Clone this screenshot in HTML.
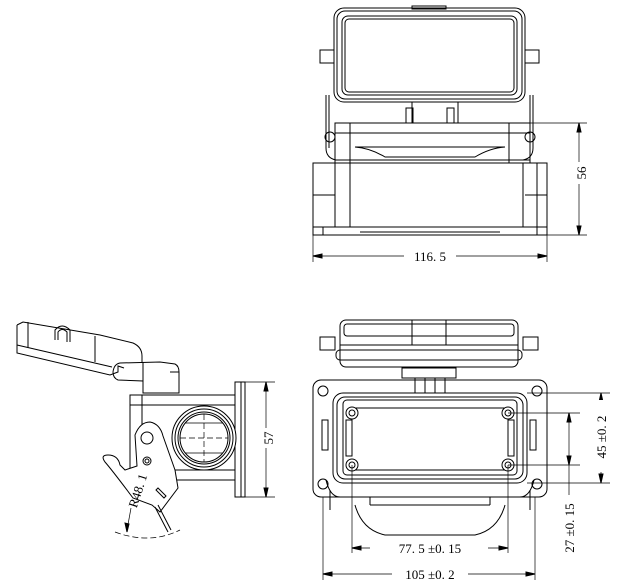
<!DOCTYPE html>
<html><head><meta charset="utf-8"><style>
html,body{margin:0;padding:0;background:#fff}
svg{display:block}
text{font-family:"Liberation Serif",serif;fill:#000;stroke:none}
</style></head><body>
<svg width="627" height="586" viewBox="0 0 627 586" fill="none" stroke="#000" stroke-width="1">
<!-- TOP VIEW -->
<rect x="334" y="8" width="191" height="94" rx="10"/>
<rect x="337" y="11" width="185" height="88" rx="8"/>
<rect x="342" y="16" width="175" height="79" rx="6"/>
<rect x="345" y="19" width="169" height="73" rx="4"/>
<rect x="412" y="6" width="34" height="3"/>
<rect x="320" y="50" width="14" height="13"/>
<rect x="525" y="50" width="14" height="13"/>
<rect x="412" y="102" width="46" height="21"/>
<rect x="406" y="108" width="7" height="15"/>
<rect x="447" y="108" width="7" height="15"/>
<path d="M326 95 V148 Q326 158 336 160 M533 95 V148 Q533 158 523 160"/>
<path d="M329 95 V148 M530 95 V148"/>
<rect x="335" y="123" width="195" height="40"/>
<line x1="335" y1="133" x2="530" y2="133"/>
<line x1="350" y1="123" x2="350" y2="163"/>
<line x1="509" y1="123" x2="509" y2="163"/>
<path d="M355 147 Q370 148 385 157 L475 157 Q490 148 505 147 Z"/>
<line x1="335" y1="160" x2="530" y2="160"/>
<circle cx="330" cy="137" r="5"/><circle cx="530" cy="137" r="5"/>
<rect x="313" y="163" width="234" height="64"/>
<line x1="335" y1="163" x2="335" y2="227"/><line x1="350" y1="163" x2="350" y2="227"/>
<line x1="523" y1="163" x2="523" y2="227"/><line x1="537" y1="163" x2="537" y2="227"/>
<line x1="313" y1="195" x2="335" y2="195"/><line x1="525" y1="195" x2="547" y2="195"/>
<rect x="313" y="227" width="234" height="8"/>
<line x1="323" y1="227" x2="323" y2="235"/><line x1="537" y1="227" x2="537" y2="235"/>
<line x1="360" y1="232" x2="500" y2="232"/>
<!-- dims top -->
<line x1="525" y1="123" x2="587" y2="123" stroke-width=".7"/>
<line x1="547" y1="235" x2="587" y2="235" stroke-width=".7"/>
<line x1="579" y1="123" x2="579" y2="235" stroke-width=".7"/>
<path d="M579 123 l-2 9 h4z M579 235 l-2 -9 h4z" fill="#000"/>
<rect x="573" y="162" width="14" height="22" fill="#fff" stroke="none"/>
<text x="586" y="173" font-size="13" transform="rotate(-90 586 173)" text-anchor="middle">56</text>
<line x1="313" y1="235" x2="313" y2="262" stroke-width=".7"/>
<line x1="547" y1="235" x2="547" y2="262" stroke-width=".7"/>
<line x1="313" y1="256" x2="547" y2="256" stroke-width=".7"/>
<path d="M313 256 l9 -2 v4z M547 256 l-9 -2 v4z" fill="#000"/>
<rect x="404" y="248" width="52" height="14" fill="#fff" stroke="none"/>
<text x="430" y="261" font-size="13" text-anchor="middle">116. 5</text>

<!-- FRONT VIEW -->
<rect x="340" y="320" width="178" height="47" rx="6"/>
<rect x="344" y="324" width="170" height="12" rx="3"/>
<line x1="340" y1="345" x2="518" y2="345"/>
<rect x="336" y="350" width="186" height="10" rx="4"/>
<rect x="412" y="320" width="34" height="25"/>
<rect x="320" y="337" width="15" height="13"/>
<rect x="523" y="337" width="15" height="13"/>
<rect x="402" y="368" width="54" height="10"/>
<rect x="415" y="378" width="30" height="15"/>
<line x1="425" y1="378" x2="425" y2="393"/><line x1="435" y1="378" x2="435" y2="393"/>
<rect x="313" y="380" width="234" height="117" rx="8"/>
<circle cx="323" cy="391" r="5"/><circle cx="537" cy="391" r="5"/>
<circle cx="323" cy="484" r="5"/><circle cx="537" cy="484" r="5"/>
<rect x="333" y="393" width="194" height="90" rx="10"/>
<rect x="337" y="397" width="186" height="82" rx="8"/>
<rect x="343" y="400" width="174" height="75" rx="4"/>
<line x1="355" y1="408" x2="505" y2="408"/><line x1="355" y1="470" x2="505" y2="470"/>
<rect x="346" y="420" width="6" height="36"/><rect x="508" y="420" width="6" height="36"/>
<g>
<circle cx="352" cy="413" r="6"/><circle cx="352" cy="413" r="3"/>
<circle cx="508" cy="413" r="6"/><circle cx="508" cy="413" r="3"/>
<circle cx="352" cy="465" r="6"/><circle cx="352" cy="465" r="3"/>
<circle cx="508" cy="465" r="6"/><circle cx="508" cy="465" r="3"/>
</g>
<path d="M322 420 v30 h6 v-30z M530 420 v30 h6 v-30z"/>
<path d="M326 480 Q330 497 340 497 M534 480 Q530 497 520 497"/>
<path d="M330 490 V510 M530 490 V510"/>
<path d="M340 497 h30 v8 M520 497 h-30 v8 M370 505 h120"/>
<path d="M355 505 Q362 530 385 535 L475 535 Q498 530 505 505"/>
<!-- dims front -->
<line x1="352" y1="465" x2="352" y2="553" stroke-width=".7"/>
<line x1="508" y1="465" x2="508" y2="553" stroke-width=".7"/>
<line x1="352" y1="548" x2="508" y2="548" stroke-width=".7"/>
<path d="M352 548 l9 -2 v4z M508 548 l-9 -2 v4z" fill="#000"/>
<rect x="370" y="540" width="118" height="14" fill="#fff" stroke="none"/>
<text x="430" y="553" font-size="13" text-anchor="middle">77. 5  ±0. 15</text>
<line x1="323" y1="497" x2="323" y2="580" stroke-width=".7"/>
<line x1="535" y1="497" x2="535" y2="580" stroke-width=".7"/>
<line x1="323" y1="574" x2="535" y2="574" stroke-width=".7"/>
<path d="M323 574 l9 -2 v4z M535 574 l-9 -2 v4z" fill="#000"/>
<rect x="392" y="566" width="76" height="14" fill="#fff" stroke="none"/>
<text x="430" y="579" font-size="13" text-anchor="middle">105  ±0. 2</text>
<line x1="527" y1="393" x2="610" y2="393" stroke-width=".7"/>
<line x1="527" y1="483" x2="610" y2="483" stroke-width=".7"/>
<line x1="508" y1="413" x2="580" y2="413" stroke-width=".7"/>
<line x1="508" y1="465" x2="580" y2="465" stroke-width=".7"/>
<line x1="601" y1="393" x2="601" y2="483" stroke-width=".7"/>
<path d="M601 393 l-2 9 h4z M601 483 l-2 -9 h4z" fill="#000"/>
<line x1="569" y1="413" x2="569" y2="495" stroke-width=".7"/>
<path d="M569 413 l-2 9 h4z M569 465 l-2 -9 h4z" fill="#000"/>
<rect x="594" y="400" width="14" height="72" fill="#fff" stroke="none"/>
<text x="606" y="437" font-size="13" transform="rotate(-90 606 437)" text-anchor="middle">45  ±0. 2</text>
<rect x="562" y="495" width="14" height="70" fill="#fff" stroke="none"/>
<text x="574" y="528" font-size="13" transform="rotate(-90 574 528)" text-anchor="middle">27  ±0. 15</text>

<!-- SIDE VIEW -->
<path d="M17 325 L23 322 L100 335 L133 343 Q142 347 142 356 L142 362"/>
<path d="M17 325 V353 L110 375 L118 372 V366 L124 368"/>
<path d="M17 345 L112 367"/>
<path d="M28 322 V348 M95 336 V362"/>
<path d="M55 340 V330 Q62 322 70 330 V342"/>
<path d="M58 340 V332 Q62 327 67 332 V342"/>
<path d="M120 363 L160 362 L175 364 Q179 366 179 372 V393 H143 V381 L118 380 Q113 378 113 372 Q114 364 120 363 Z"/>
<line x1="143" y1="362" x2="143" y2="393"/>
<line x1="170" y1="372" x2="179" y2="372"/>
<rect x="130" y="395" width="105" height="85"/>
<line x1="142" y1="395" x2="142" y2="430"/>
<line x1="130" y1="405" x2="235" y2="405"/>
<line x1="130" y1="470" x2="235" y2="470"/>
<rect x="235" y="382" width="6" height="115"/>
<rect x="241" y="382" width="4" height="115"/>
<circle cx="204" cy="438" r="32" fill="#fff"/>
<circle cx="204" cy="438" r="29"/>
<circle cx="204" cy="438" r="26"/>
<circle cx="204" cy="438" r="24"/>
<path d="M180 438 H228 M204 414 V462" stroke-dasharray="6 3" stroke-width=".7"/>
<path d="M185 423 H223 M185 453 H223" stroke-width=".7"/>
<path d="M135 435 Q140 422 150 422 Q160 424 163 436 L175 470 L178 488 L160 512 L152 505 L133 498 Q112 470 105 462 Q100 455 108 455 Q118 455 120 465 L125 470 L137 466 Z" fill="#fff"/>
<circle cx="147" cy="438" r="6"/>
<circle cx="147" cy="461" r="4"/><circle cx="147" cy="461" r="2"/>
<path d="M158 488 L166 496 L164 498 L156 490Z"/>
<path d="M155 507 L168 532 M158 505 L171 530"/>
<path d="M115 532 Q150 545 180 530" stroke-dasharray="6 3" stroke-width=".7"/>
<line x1="131" y1="508" x2="127" y2="530" stroke-width=".7"/>
<path d="M127 532 l-2 -9 l4 1z" fill="#000"/>
<text x="142" y="492" font-size="13" transform="rotate(-72 142 492)" text-anchor="middle">R48. 1</text>
<line x1="245" y1="382" x2="275" y2="382" stroke-width=".7"/>
<line x1="245" y1="497" x2="275" y2="497" stroke-width=".7"/>
<line x1="266" y1="382" x2="266" y2="497" stroke-width=".7"/>
<path d="M266 382 l-2 9 h4z M266 497 l-2 -9 h4z" fill="#000"/>
<rect x="260" y="428" width="14" height="20" fill="#fff" stroke="none"/>
<text x="273" y="438" font-size="13" transform="rotate(-90 273 438)" text-anchor="middle">57</text>
</svg>
</body></html>
